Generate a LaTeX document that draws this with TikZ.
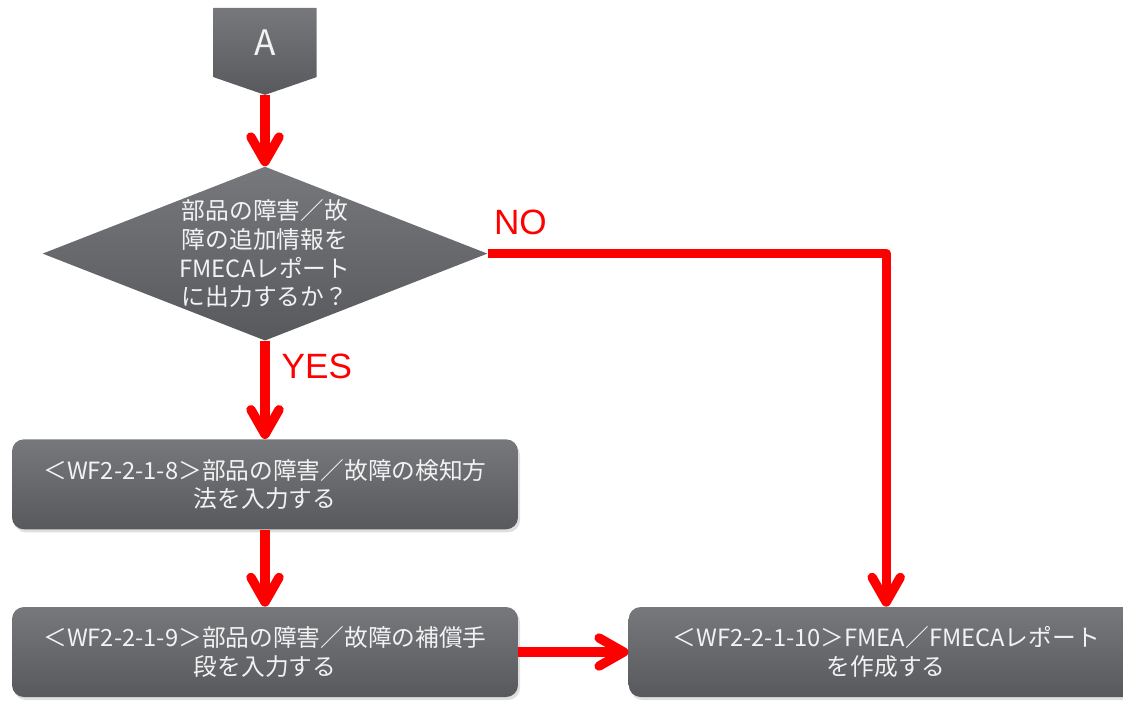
\documentclass[tikz,border=0pt]{standalone}
\usepackage{fontspec}
\setmainfont{Noto Sans CJK JP}
\newfontfamily\labelfont{Liberation Sans}
\usetikzlibrary{shapes.geometric, shapes.symbols, arrows.meta, positioning, shadows}
\definecolor{boxtop}{HTML}{76787C}
\definecolor{boxbot}{HTML}{58595D}
\definecolor{boxtext}{HTML}{F2F2F2}
\definecolor{flowred}{HTML}{FF0000}
\tikzstyle{block} = [rectangle, rounded corners=0.24cm, minimum width=10.12cm, minimum height=1.8cm, align=center, top color=boxtop, bottom color=boxbot, text=boxtext, font=\fontsize{13.5}{16}\selectfont, drop shadow={opacity=0.25, shadow xshift=0.04cm, shadow yshift=-0.06cm}]
\tikzstyle{decision} = [diamond, aspect=2.56, minimum width=8.9cm, minimum height=3.48cm, inner sep=-0.3cm, align=center, top color=boxtop, bottom color=boxbot, text=boxtext, font=\fontsize{13.5}{16.4}\selectfont]
\tikzstyle{arrow} = [line width=5.3pt, draw=flowred, line join=round, -{Straight Barb[length=14pt,width=16pt,line cap=round,line join=round]}]
\tikzstyle{answer} = [text=flowred, font=\labelfont\fontsize{20}{24}\selectfont]

\begin{document}
\begin{tikzpicture}[node distance=1.5cm]
    \useasboundingbox (0,0) rectangle (22.46,-14.04);

    % Connector A
    \node (start) [signal, signal to=south, signal pointer angle=142, minimum width=2.06cm, minimum height=1.5cm, top color=boxtop, bottom color=boxbot, text=boxtext, font=\fontsize{20}{24}\selectfont] at (5.3,-0.85) {A};

    % Decision
    \node (question) [decision, below=1.42cm of start] {部品の障害／故\\障の追加情報を\\FMECAレポート\\に出力するか？};

    % Steps
    \node (detect) [block, below=1.96cm of question] {＜WF2-2-1-8＞部品の障害／故障の検知方\\法を入力する};
    \node (compensate) [block, below=1.54cm of detect] {＜WF2-2-1-9＞部品の障害／故障の補償手\\段を入力する};
    \node (report) [block, right=2.2cm of compensate, minimum width=10.3cm] {＜WF2-2-1-10＞FMEA／FMECAレポート\\を作成する};

    % Answers
    \node (yes) [answer, right=0.21cm of question.south, yshift=-0.5cm] {YES};
    \node (no) [answer, right=0cm of question.east, yshift=0.62cm] {NO};

    \draw [arrow] (start.south) -- (question.north);
    \draw [arrow] (question.south) -- (detect.north);
    \draw [arrow] (detect) -- (compensate);
    \draw [arrow] (compensate) -- (report);
    \draw [arrow] (question.east) -| (report.north);

\end{tikzpicture}
\end{document}
